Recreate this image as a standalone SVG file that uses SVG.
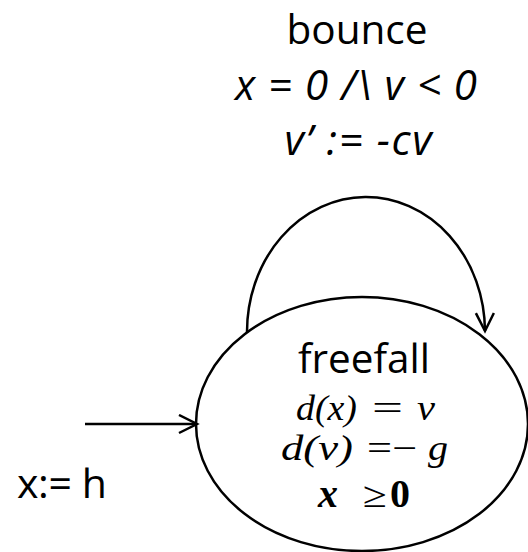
<svg xmlns="http://www.w3.org/2000/svg" width="528" height="552" viewBox="0 0 528 552">
<defs>
<style>
.lbl{font-family:"Open Sans","Liberation Sans",sans-serif;fill:#000;text-anchor:middle}
.it{font-style:italic}
.m{font-family:"Liberation Serif","DejaVu Serif",serif;font-style:italic;fill:#000;font-size:36px}
.op{font-style:normal}
.b{font-weight:bold;font-size:40px}
.edge{fill:none;stroke:#000;stroke-width:2.5}
</style>
<marker id="arr" markerWidth="24" markerHeight="24" refX="20" refY="10" orient="auto" markerUnits="userSpaceOnUse">
<path d="M2,1 L20,10 L2,19" fill="none" stroke="#000" stroke-width="2.5"/>
</marker>
</defs>
<rect width="528" height="552" fill="#fff"/>
<g id="edges">
<path id="loop" class="edge" d="M247,333 A119,135 0 0 1 485,331" marker-end="url(#arr)"/>
<path id="init" class="edge" d="M85,424 L197,424" marker-end="url(#arr)"/>
</g>
<g id="freefall">
<ellipse cx="362" cy="424" rx="166" ry="127" fill="none" stroke="#000" stroke-width="2.5"/>
<text class="lbl" x="364" y="373" font-size="41" textLength="132" lengthAdjust="spacingAndGlyphs">freefall</text>
<text class="m" x="296" y="420" textLength="61" lengthAdjust="spacingAndGlyphs">d(x)</text>
<text class="m op" x="372" y="420" textLength="31" lengthAdjust="spacingAndGlyphs">=</text>
<text class="m" x="417" y="420" textLength="18" lengthAdjust="spacingAndGlyphs">v</text>
<text class="m" x="281" y="460" textLength="72" lengthAdjust="spacingAndGlyphs">d(v)</text>
<text class="m op" x="367" y="460" textLength="50" lengthAdjust="spacingAndGlyphs">=−</text>
<text class="m" x="428" y="460" textLength="20" lengthAdjust="spacingAndGlyphs">g</text>
<text class="m b" x="318" y="507" textLength="20" lengthAdjust="spacingAndGlyphs">x</text>
<text class="m op" x="363" y="507" textLength="24" lengthAdjust="spacingAndGlyphs">≥</text>
<text class="m op b" x="390" y="507" textLength="20" lengthAdjust="spacingAndGlyphs">0</text>
</g>
<g id="bounce-label">
<text class="lbl" x="357" y="44" font-size="40" textLength="141" lengthAdjust="spacingAndGlyphs">bounce</text>
<text class="lbl it" x="356" y="100" font-size="42" textLength="242" lengthAdjust="spacing">x = 0 /\ v &lt; 0</text>
<text class="lbl it" x="358" y="155" font-size="42" textLength="147" lengthAdjust="spacing">v’ := -cv</text>
</g>
<g id="init-label">
<text class="lbl" x="62" y="498" font-size="41" textLength="90" lengthAdjust="spacing">x:= h</text>
</g>
</svg>
